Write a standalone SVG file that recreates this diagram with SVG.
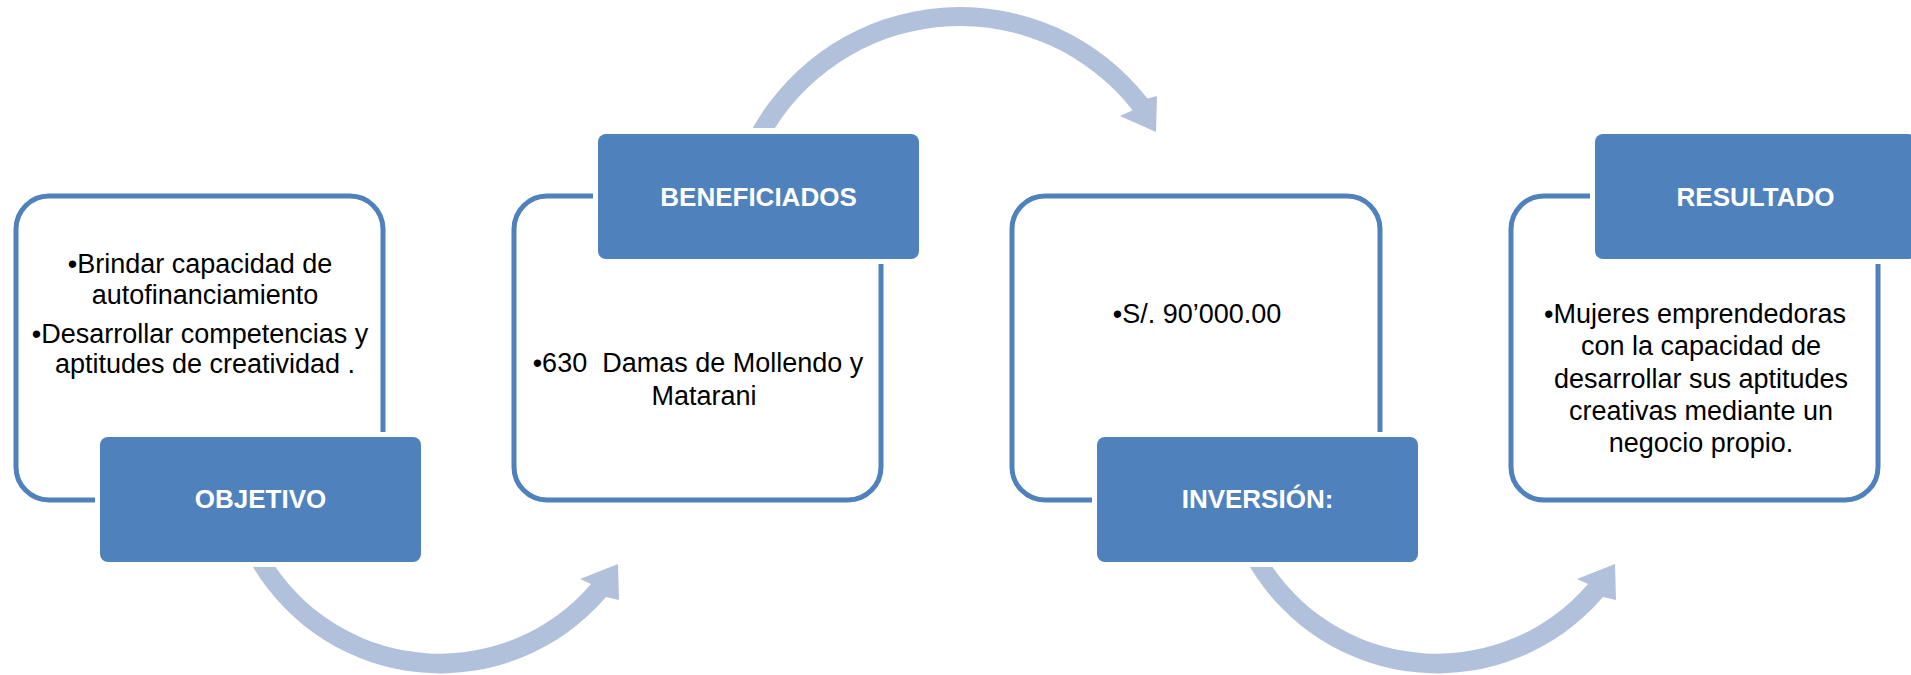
<svg xmlns="http://www.w3.org/2000/svg" width="1911" height="675" viewBox="0 0 1911 675">
<style>
.frame{fill:#FFFFFF;stroke:#4F81BD;stroke-width:5}
.halo{fill:#FFFFFF}
.head{fill:#4F81BD}
.title{font-family:"Liberation Sans",Arial,sans-serif;font-weight:bold;font-size:26px;fill:#FFFFFF;text-anchor:middle}
.body{font-family:"Liberation Sans",Arial,sans-serif;font-size:27px;fill:#000000;text-anchor:middle;white-space:pre}
.arc{fill:#B2C1DB}
</style>
<rect width="1911" height="675" fill="#FFFFFF"/>
<g id="connectors">
<path class="arc" d="M253,567 A218,218 0 0,0 606,597 L619,600 L618,564 L580,579 L591,584 A199,199 0 0,1 275.5,567 Z"/>
<path class="arc" d="M752.7,128 A238,238 0 0,1 1147.5,98.5 L1157,96 L1156,132 L1120,116 L1132.6,110.2 A219,219 0 0,0 774.9,128 Z"/>
<path class="arc" d="M1250,567 A218,218 0 0,0 1603,597 L1616,600 L1615,564 L1577,579 L1588,584 A199,199 0 0,1 1272.5,567 Z"/>
</g>
<g id="node-objetivo">
<rect class="frame" x="16" y="196" width="367" height="304" rx="33"/>
<text class="body" x="200" y="273">•Brindar capacidad de</text>
<text class="body" x="205" y="304">autofinanciamiento</text>
<text class="body" x="200" y="343">•Desarrollar competencias y</text>
<text class="body" x="205" y="373">aptitudes de creatividad .</text>
<rect class="halo" x="95" y="432" width="331" height="135" rx="12"/>
<rect class="head" x="100" y="437" width="321" height="125" rx="8"/>
<text class="title" x="260.5" y="508">OBJETIVO</text>
</g>
<g id="node-beneficiados">
<rect class="frame" x="514" y="196" width="367" height="304" rx="33"/>
<text class="body" x="698" y="372">•630  Damas de Mollendo y</text>
<text class="body" x="704" y="405">Matarani</text>
<rect class="halo" x="593" y="129" width="331" height="135" rx="12"/>
<rect class="head" x="598" y="134" width="321" height="125" rx="8"/>
<text class="title" x="758.5" y="206">BENEFICIADOS</text>
</g>
<g id="node-inversion">
<rect class="frame" x="1012" y="196" width="368" height="304" rx="33"/>
<text class="body" x="1197" y="323">•S/. 90’000.00</text>
<rect class="halo" x="1092" y="432" width="331" height="135" rx="12"/>
<rect class="head" x="1097" y="437" width="321" height="125" rx="8"/>
<text class="title" x="1257.5" y="508">INVERSIÓN:</text>
</g>
<g id="node-resultado">
<rect class="frame" x="1511" y="196" width="367" height="304" rx="33"/>
<text class="body" x="1695" y="323">•Mujeres emprendedoras</text>
<text class="body" x="1701" y="355">con la capacidad de</text>
<text class="body" x="1701" y="388">desarrollar sus aptitudes</text>
<text class="body" x="1701" y="420">creativas mediante un</text>
<text class="body" x="1701" y="452">negocio propio.</text>
<rect class="halo" x="1590" y="129" width="331" height="135" rx="12"/>
<rect class="head" x="1595" y="134" width="321" height="125" rx="8"/>
<text class="title" x="1755.5" y="206">RESULTADO</text>
</g>
</svg>
